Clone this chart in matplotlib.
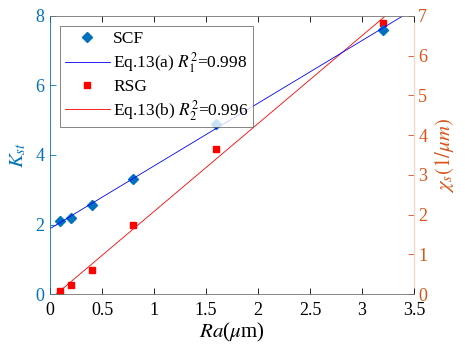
import numpy as np
import matplotlib
matplotlib.use("Agg")
import matplotlib.pyplot as plt
from matplotlib.font_manager import FontProperties

SERIF = 'Liberation Serif'
plt.rcParams['font.family'] = SERIF
plt.rcParams['mathtext.fontset'] = 'stix'

ra = [0.1, 0.2, 0.4, 0.8, 1.6, 3.2]
kst = [2.1, 2.2, 2.55, 3.3, 4.9, 7.6]
chi = [0.08, 0.24, 0.6, 1.74, 3.65, 6.82]
labels = ["SCF", "Eq.13(a) $R_1^2$=0.998", "RSG", "Eq.13(b) $R_2^2$=0.996"]

mblue = (0, 0.447, 0.741)
morange = (0.85, 0.325, 0.098)

fig = plt.figure(figsize=(4.65, 3.53), dpi=100)
ax = fig.add_axes([0.1075, 0.167, 0.783, 0.788])
ax2 = ax.twinx()

xs = np.linspace(0, 3.5, 200)
p1 = np.polyfit(ra, kst, 1)
p2 = np.polyfit(ra, chi, 1)

h1, = ax.plot(ra, kst, 'D', color=mblue, markersize=5, linestyle='none')
h2, = ax.plot(xs, np.polyval(p1, xs), color='blue', lw=0.6)
h3, = ax2.plot(ra, chi, 's', color='red', markersize=4.5, linestyle='none')
h4, = ax2.plot(xs, np.polyval(p2, xs), color='red', lw=0.6)

ax.set_xlim(0, 3.5)
ax.set_ylim(0, 8)
ax2.set_ylim(0, 7)
ax.set_xticks(np.arange(0, 3.51, 0.5))
ax.set_xticklabels(['0', '0.5', '1', '1.5', '2', '2.5', '3', '3.5'], fontfamily=SERIF)
ax.set_yticks([0, 2, 4, 6, 8])
ax.set_yticklabels(['0', '2', '4', '6', '8'], fontfamily=SERIF)
ax2.set_yticks(range(8))
ax2.set_yticklabels([str(i) for i in range(8)], fontfamily=SERIF)

fs = 13
ax.tick_params(axis='x', direction='in', top=True, labelsize=fs, colors='black', length=4, width=0.6, pad=6)
ax.tick_params(axis='y', direction='in', labelsize=fs, colors=mblue, length=4, width=0.6, pad=4)
ax2.tick_params(axis='y', direction='in', labelsize=fs, colors=morange, length=4, width=0.6, pad=3)

for s in ['top', 'bottom']:
    ax.spines[s].set_color('0.45')
    ax.spines[s].set_linewidth(0.6)
ax.spines['left'].set_color(mblue)
ax.spines['left'].set_linewidth(0.6)
ax.spines['right'].set_visible(False)
for s in ['top', 'bottom', 'left']:
    ax2.spines[s].set_visible(False)
ax2.spines['right'].set_color((0.98, 0.82, 0.75))
ax2.spines['right'].set_linewidth(0.8)

ax.set_xlabel('$Ra$($\\mu$m)', fontsize=15, labelpad=1, fontfamily=SERIF)
ax.set_ylabel('$K_{st}$', fontsize=15, color=mblue, labelpad=5, fontfamily=SERIF)
ax2.set_ylabel('$\\chi_s(1/\\mu m)$', fontsize=15, color=morange, labelpad=4, fontfamily=SERIF)

leg = ax.legend([h1, h2, h3, h4], labels, loc='upper left',
                prop=FontProperties(family=SERIF, size=12.5),
                frameon=True, fancybox=False, edgecolor='0.3', borderpad=0.25,
                labelspacing=0.2, handlelength=2.6, handletextpad=0.2,
                borderaxespad=0.6)
leg.get_frame().set_linewidth(0.6)
ax.set_zorder(ax2.get_zorder() + 1)
ax.patch.set_visible(False)

fig.savefig('out.png', dpi=100)
